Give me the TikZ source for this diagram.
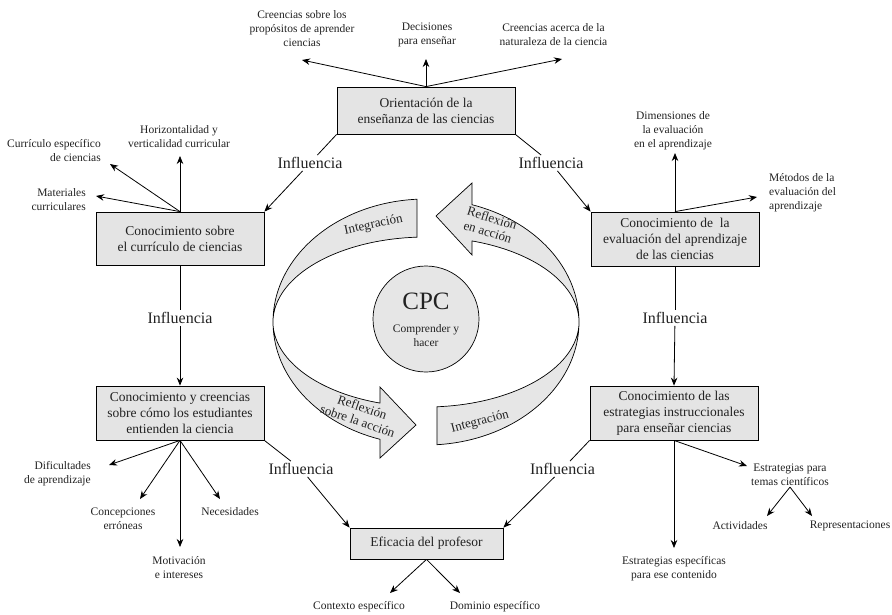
\documentclass[tikz,border=0pt]{standalone}
\usepackage{fontspec}
\setmainfont{Liberation Serif}
\usetikzlibrary{arrows.meta}
\definecolor{boxgray}{HTML}{E4E4E4}
\definecolor{bandgray}{HTML}{E6E6E6}
\definecolor{txt}{HTML}{222222}
\begin{document}
\begin{tikzpicture}[x=1pt,y=1pt,
  box/.style={draw, fill=boxgray, align=center, inner sep=1pt, line width=0.8pt, text=txt,
    font=\fontsize{13.5}{16}\selectfont},
  lbl/.style={align=center, inner sep=1pt, text=txt, font=\fontsize{11.5}{14}\selectfont},
  infl/.style={inner sep=2pt, text=txt, font=\fontsize{16}{19}\selectfont},
  arr/.style={-{Stealth[length=8pt,width=6.5pt]}, line width=0.8pt},
  ln/.style={line width=0.8pt},
  band/.style={draw, fill=bandgray, line width=0.7pt},
  bandtxt/.style={align=center, inner sep=0pt, text=txt, font=\fontsize{13}{14.5}\selectfont}
]
\useasboundingbox (0,0) rectangle (892,-614);

% ---------- central band ----------
\draw[band] (416.93,-199.22) arc[start angle=93.4, end angle=252.5, x radius=153, y radius=123]
  -- (380,-458) -- (416,-425) -- (380,-387) -- (379.99,-403.07)
  arc[start angle=252.5, end angle=93.4, x radius=153, y radius=85] -- cycle;
\draw[band] (472.01,-204.69) -- (472,-183) -- (436,-216) -- (472,-255) -- (472.01,-240.93)
  arc[start angle=72.5, end angle=-85.9, x radius=153, y radius=85]
  -- (436.94,-444.69)
  arc[start angle=-85.9, end angle=72.5, x radius=153, y radius=123] -- cycle;

\node[bandtxt, rotate=12] (bt1) at (373.5,-225) {Integración};
\node[bandtxt, rotate=-17] (bt2) at (490,-225) {Reflexión\\en acción};
\node[bandtxt, rotate=-19] (bt3) at (360,-414) {Reflexión\\sobre la acción};
\node[bandtxt, rotate=15] (bt4) at (480,-422) {Integración};

\node[draw, circle, fill=bandgray, minimum size=106pt, line width=0.7pt] (cpc) at (426,-319) {};
\node[text=txt, font=\fontsize{25}{28}\selectfont, inner sep=0pt] (cpct) at (426,-301) {CPC};
\node[lbl] (cpcs) at (426,-335.5) {Comprender y\\hacer};

% ---------- boxes ----------
\node[box, minimum width=178pt, minimum height=47pt] (O) at (426,-110.5) {Orientación de la\\enseñanza de las ciencias};
\node[box, minimum width=168pt, minimum height=53pt] (C) at (180,-238.5) {Conocimiento sobre\\el currículo de ciencias};
\node[box, minimum width=168pt, minimum height=54pt] (E) at (675,-239) {Conocimiento de \ la\\evaluación del aprendizaje\\de las ciencias};
\node[box, minimum width=168pt, minimum height=54pt] (S) at (180,-413) {Conocimiento y creencias\\sobre cómo los estudiantes\\entienden la ciencia};
\node[box, minimum width=168pt, minimum height=54pt] (T) at (674,-413) {Conocimiento de las\\estrategias instruccionales\\para enseñar ciencias};
\node[box, minimum width=153pt, minimum height=31pt] (F) at (426.5,-543.5) {Eficacia del profesor};

% ---------- Influencia connectors ----------
\node[infl] (I1) at (310,-163) {Influencia};
\node[infl] (I2) at (551,-163) {Influencia};
\node[infl] (I3) at (180,-318) {Influencia};
\node[infl] (I4) at (675,-318) {Influencia};
\node[infl] (I5) at (301,-469) {Influencia};
\node[infl] (I6) at (562.5,-469) {Influencia};

\draw[ln] (O.south west) -- (I1);
\draw[arr] (I1) -- (C.north east);
\draw[ln] (O.south east) -- (I2);
\draw[arr] (I2) -- (E.north west);
\draw[ln] (C.south) -- (I3);
\draw[arr] (I3) -- (S.north);
\draw[ln] (E.south) -- (I4);
\draw[arr] (I4) -- (T.north);
\draw[ln] (S.south east) -- (I5);
\draw[arr] (I5) -- (F.north west);
\draw[ln] (T.south west) -- (I6);
\draw[arr] (I6) -- (F.north east);

% ---------- leaf labels ----------
% Orientación
\node[lbl] (o1) at (302,-28.5) {Creencias sobre los\\propósitos de aprender\\ciencias};
\node[lbl] (o2) at (427,-34.5) {Decisiones\\para enseñar};
\node[lbl] (o3) at (553.5,-34.5) {Creencias acerca de la\\naturaleza de la ciencia};
\coordinate (o1t) at (302,-60);
\coordinate (o2t) at (426,-59);
\coordinate (o3t) at (562,-59);
\draw[arr] (O.north) -- (o1t);
\draw[arr] (O.north) -- (o2t);
\draw[arr] (O.north) -- (o3t);

% Currículo
\node[lbl] (c1) at (179,-136.5) {Horizontalidad y\\verticalidad curricular};
\node[lbl, align=right, anchor=east] (c2) at (102,-150.5) {Currículo específico\\de ciencias};
\node[lbl, align=right, anchor=east] (c3) at (87,-199.5) {Materiales\\curriculares};
\coordinate (c1t) at (180,-156);
\coordinate (c2t) at (110,-164);
\coordinate (c3t) at (96,-196);
\draw[arr] (C.north) -- (c1t);
\draw[arr] (C.north) -- (c2t);
\draw[arr] (C.north) -- (c3t);

% Evaluación
\node[lbl] (e1) at (673,-131) {Dimensiones de\\la evaluación\\en el aprendizaje};
\node[lbl, align=left, anchor=west] (e2) at (768,-193) {Métodos de la\\evaluación del\\aprendizaje};
\coordinate (e1t) at (675,-153);
\coordinate (e2t) at (757,-197);
\draw[arr] (E.north) -- (e1t);
\draw[arr] (E.north) -- (e2t);

% Estudiantes
\node[lbl, align=right, anchor=east] (s1) at (92,-474) {Dificultades\\de aprendizaje};
\node[lbl] (s2) at (123,-519) {Concepciones\\erróneas};
\node[lbl] (s3) at (179,-568) {Motivación\\e intereses};
\node[lbl] (s4) at (230,-512) {Necesidades};
\coordinate (s1t) at (109,-465);
\coordinate (s2t) at (140,-499);
\coordinate (s3t) at (180,-547);
\coordinate (s4t) at (220,-499);
\draw[arr] (S.south) -- (s1t);
\draw[arr] (S.south) -- (s2t);
\draw[arr] (S.south) -- (s3t);
\draw[arr] (S.south) -- (s4t);

% Eficacia
\node[lbl] (f1) at (359,-607) {Contexto específico};
\node[lbl] (f2) at (495,-607) {Dominio específico};
\coordinate (f1t) at (390,-593);
\coordinate (f2t) at (460,-593);
\draw[arr] (F.south) -- (f1t);
\draw[arr] (F.south) -- (f2t);

% Estrategias
\node[lbl] (t1) at (674,-569) {Estrategias específicas\\para ese contenido};
\node[lbl] (t2) at (790,-475) {Estrategias para\\temas científicos};
\node[lbl] (t3) at (740,-526) {Actividades};
\node[lbl] (t4) at (850,-526) {Representaciones};
\coordinate (t1t) at (674,-548);
\coordinate (t2t) at (747,-466);
\coordinate (t3t) at (767,-516);
\coordinate (t4t) at (812,-516);
\draw[arr] (T.south) -- (t1t);
\draw[arr] (T.south) -- (t2t);
\draw[arr] (t2.south) -- (t3t);
\draw[arr] (t2.south) -- (t4t);
\end{tikzpicture}
\end{document}
